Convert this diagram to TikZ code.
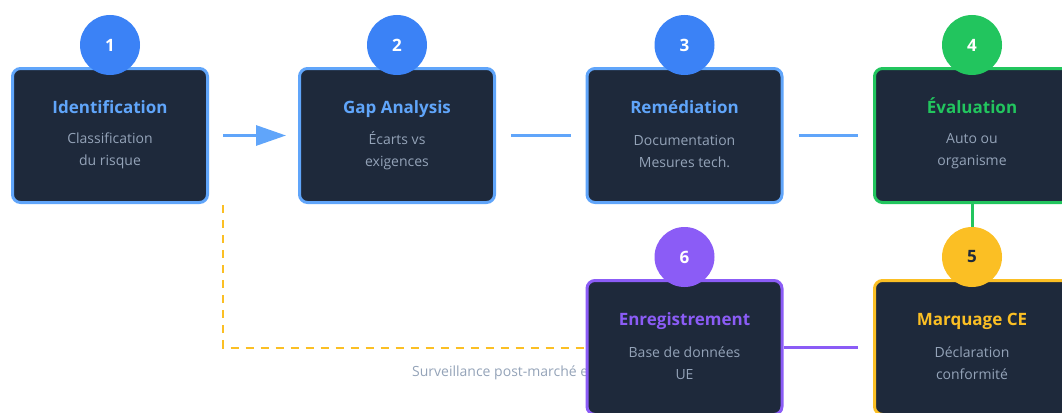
\documentclass[tikz,border=0pt]{standalone}
\usepackage{fontspec}
\setmainfont{Open Sans}
\usetikzlibrary{arrows.meta,calc,backgrounds}
\definecolor{cardbg}{HTML}{1E293B}
\definecolor{blueA}{HTML}{3B82F6}
\definecolor{blueB}{HTML}{60A5FA}
\definecolor{greenA}{HTML}{22C55E}
\definecolor{amberA}{HTML}{FBBF24}
\definecolor{violetA}{HTML}{8B5CF6}
\definecolor{muted}{HTML}{94A3B8}
\begin{document}
\begin{tikzpicture}[x=1pt,y=-1pt,
  card/.style={draw=#1, fill=cardbg, line width=3pt, rounded corners=8pt,
    minimum width=195pt, minimum height=134pt, inner sep=0pt},
  badge/.style={circle, fill=#1, minimum size=60pt, inner sep=0pt,
    font=\fontsize{17}{20}\selectfont\bfseries, text=white},
  ttl/.style={font=\fontsize{17}{20}\selectfont\bfseries, text=#1, inner sep=0pt,
    text height=12.5pt, text depth=0pt},
  desc/.style={font=\fontsize{14}{22}\selectfont, text=muted, align=center, inner sep=0pt},
  link/.style={draw=#1, line width=3pt},
]
\useasboundingbox (0,0) rectangle (1062,412);
\clip (0,0) rectangle (1062,412);

% cards
\node[card=blueB]   (b1) at (110,135.5) {};
\node[card=blueB]   (b2) at (397,135.5) {};
\node[card=blueB]   (b3) at (684.5,135.5) {};
\node[card=greenA]  (b4) at (972,135.5) {};
\node[card=violetA] (b6) at (684.5,347.5) {};
\node[card=amberA]  (b5) at (972,347.5) {};

% titles
\node[ttl=blueB]   (t1) at ($(b1.center)+(0,-28.5)$) {Identification};
\node[ttl=blueB]   (t2) at ($(b2.center)+(0,-28.5)$) {Gap Analysis};
\node[ttl=blueB]   (t3) at ($(b3.center)+(0,-28.5)$) {Remédiation};
\node[ttl=greenA]  (t4) at ($(b4.center)+(0,-28.5)$) {Évaluation};
\node[ttl=violetA] (t6) at ($(b6.center)+(0,-28.5)$) {Enregistrement};
\node[ttl=amberA]  (t5) at ($(b5.center)+(0,-28.5)$) {Marquage CE};

% descriptions
\node[desc] (d1) at ($(b1.center)+(0,15.5)$) {Classification\\du risque};
\node[desc] (d2) at ($(b2.center)+(0,15.5)$) {Écarts vs\\exigences};
\node[desc] (d3) at ($(b3.center)+(0,15.5)$) {Documentation\\Mesures tech.};
\node[desc] (d4) at ($(b4.center)+(0,15.5)$) {Auto ou\\organisme};
\node[desc] (d6) at ($(b6.center)+(0,15.5)$) {Base de données\\UE};
\node[desc] (d5) at ($(b5.center)+(0,15.5)$) {Déclaration\\conformité};

% step badges
\node[badge=blueA]  (c1) at (110,45) {1};
\node[badge=blueA]  (c2) at (397,45) {2};
\node[badge=blueA]  (c3) at (684.5,45) {3};
\node[badge=greenA] (c4) at (972,45) {4};
\node[badge=violetA] (c6) at (684.5,257) {6};
\node[badge=amberA, text=cardbg] (c5) at (972,257) {5};

% feedback loop start
\coordinate (fb) at (223,205);

\begin{scope}[on background layer]
  \draw[link=blueB, shorten <=14pt, shorten >=12pt,
        -{Triangle[length=30pt,width=20pt]}] (b1.east) -- (b2.west);
  \draw[link=blueB, shorten <=15pt, shorten >=15pt] (b2.east) -- (b3.west);
  \draw[link=blueB, shorten <=15pt, shorten >=15pt] (b3.east) -- (b4.west);
  \draw[link=greenA] (b4.south) -- (c5.north);
  \draw[link=violetA, shorten >=15pt] (b6.east) -- (b5.west);
  \draw[draw=amberA, line width=2pt, dash pattern=on 8pt off 7pt] (fb) |- (b6.west);
  \node[font=\fontsize{14}{16}\selectfont, text=muted, anchor=west, inner sep=0pt]
    (lbl) at (412,373) {Surveillance post-marché et};
\end{scope}
\end{tikzpicture}
\end{document}
